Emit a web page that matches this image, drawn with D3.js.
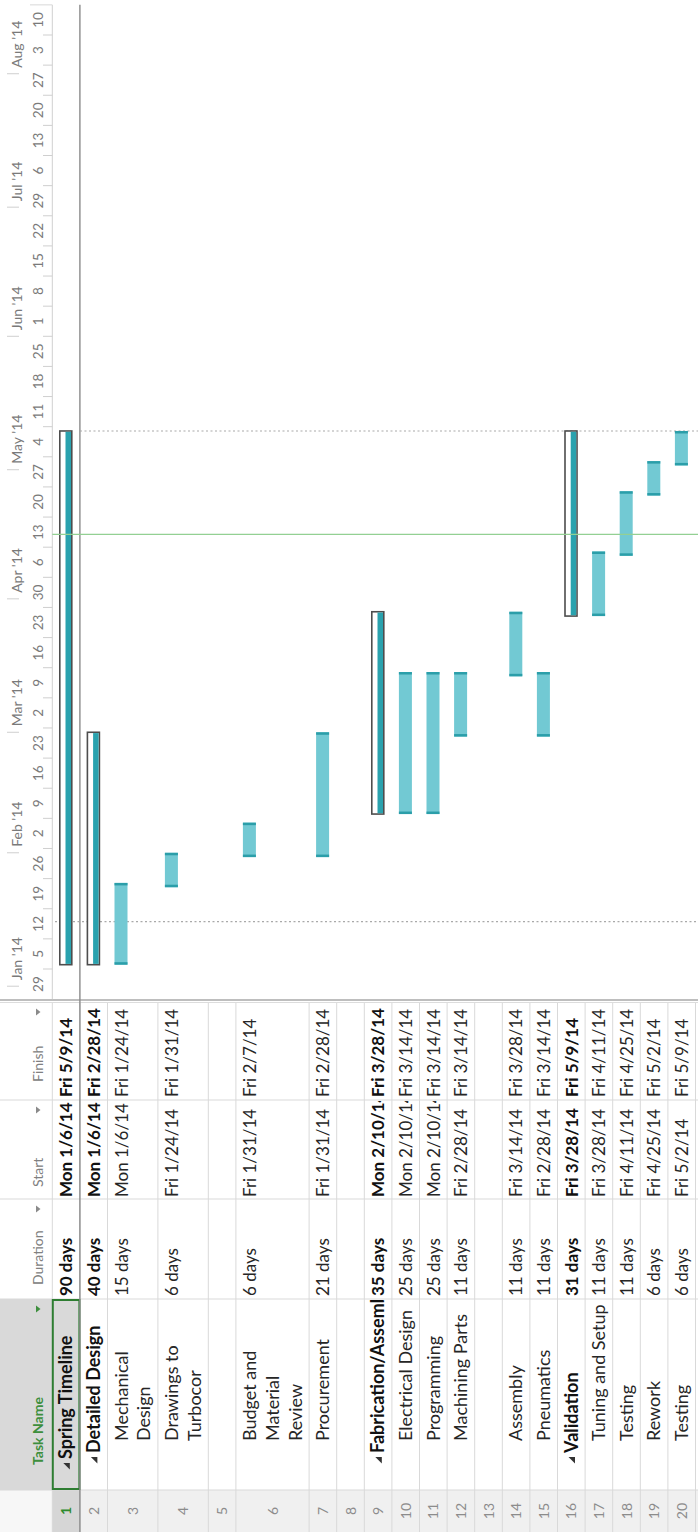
<!DOCTYPE html>
<html><head><meta charset="utf-8">
<script src="https://cdn.jsdelivr.net/npm/d3@7"></script>
<style>
html,body{margin:0;padding:0;background:#fff;}
svg{display:block;font-family:Lato,"Open Sans",sans-serif;}
</style>
</head><body>
<svg id="chart" width="698" height="1532"></svg>
<script>
// ---------- DATA ----------
const rowIds = d3.range(1, 21);
const taskLines = [
  ["Spring Timeline"], ["Detailed Design"], ["Mechanical", "Design"], ["Drawings to", "Turbocor"], [""],
  ["Budget and", "Material", "Review"], ["Procurement"], [""], ["Fabrication/Assembly"], ["Electrical Design"],
  ["Programming"], ["Machining Parts"], [""], ["Assembly"], ["Pneumatics"],
  ["Validation"], ["Tuning and Setup"], ["Testing"], ["Rework"], ["Testing"]
];
const taskLevels = [0,1,2,2,2,2,2,2,1,2,2,2,2,2,2,1,2,2,2,2];
const isSummary = [true,true,false,false,false,false,false,false,true,false,false,false,false,false,false,true,false,false,false,false];
const durations = ["90 days","40 days","15 days","6 days","","6 days","21 days","","35 days","25 days","25 days","11 days","","11 days","11 days","31 days","11 days","11 days","6 days","6 days"];
const startLabels = ["Mon 1/6/14","Mon 1/6/14","Mon 1/6/14","Fri 1/24/14","","Fri 1/31/14","Fri 1/31/14","","Mon 2/10/14","Mon 2/10/14","Mon 2/10/14","Fri 2/28/14","","Fri 3/14/14","Fri 2/28/14","Fri 3/28/14","Fri 3/28/14","Fri 4/11/14","Fri 4/25/14","Fri 5/2/14"];
const finishLabels = ["Fri 5/9/14","Fri 2/28/14","Fri 1/24/14","Fri 1/31/14","","Fri 2/7/14","Fri 2/28/14","","Fri 3/28/14","Fri 3/14/14","Fri 3/14/14","Fri 3/14/14","","Fri 3/28/14","Fri 3/14/14","Fri 5/9/14","Fri 4/11/14","Fri 4/25/14","Fri 5/2/14","Fri 5/9/14"];
const startDates = ["2014-01-06","2014-01-06","2014-01-06","2014-01-24",null,"2014-01-31","2014-01-31",null,"2014-02-10","2014-02-10","2014-02-10","2014-02-28",null,"2014-03-14","2014-02-28","2014-03-28","2014-03-28","2014-04-11","2014-04-25","2014-05-02"];
const finishDates = ["2014-05-09","2014-02-28","2014-01-24","2014-01-31",null,"2014-02-07","2014-02-28",null,"2014-03-28","2014-03-14","2014-03-14","2014-03-14",null,"2014-03-28","2014-03-14","2014-05-09","2014-04-11","2014-04-25","2014-05-02","2014-05-09"];
const columnHeaders = ["Task Name", "Duration", "Start", "Finish"];
const monthLabels = ["Jan '14","Feb '14","Mar '14","Apr '14","May '14","Jun '14","Jul '14","Aug '14"];
const monthStarts = ["2014-01-01","2014-02-01","2014-03-01","2014-04-01","2014-05-01","2014-06-01","2014-07-01","2014-08-01"];
const weekLabels = ["29","5","12","19","26","2","9","16","23","2","9","16","23","30","6","13","20","27","4","11","18","25","1","8","15","22","29","6","13","20","27","3","10"];
const statusDate = "2014-01-16";
const currentDate = "2014-04-16";
const projectFinish = "2014-05-10";

// ---------- LAYOUT ----------
const parse = d3.utcParse("%Y-%m-%d");
const svg = d3.select("#chart");
const g = svg.append("g").attr("transform", "translate(0,1532) rotate(-90)");
// in g: u = horizontal (original screenshot), v = vertical
const x = d3.scaleUtc().domain([parse("2014-01-05"), parse("2014-08-10")]).range([563, 1497]);
const tlStart = parse("2013-12-29"), tlEnd = parse("2014-08-17");
const U0 = x(tlStart), U1 = x(tlEnd);
const headerH = 52.3;
const rowH = taskLines.map(l => 27.6 + (l.length - 1) * 22.8);
const rowTop = [headerH, ...d3.cumsum(rowH).map(c => headerH + c)];
const colEdges = [0, 42, 233, 333, 432, 530];
const gridC = "#d9d9d9";

// ---------- TABLE BACKGROUNDS ----------
g.append("rect").attr("x", 0).attr("y", 0).attr("width", 42).attr("height", 698).attr("fill", "#f0f0f0");
g.append("rect").attr("x", 0).attr("y", 0).attr("width", 42).attr("height", headerH).attr("fill", "#f7f7f7");
g.append("rect").attr("x", 42).attr("y", 0).attr("width", 191).attr("height", headerH).attr("fill", "#d9d9d9");
g.append("rect").attr("x", 0).attr("y", rowTop[0]).attr("width", 42).attr("height", rowH[0]).attr("fill", "#d6d6d6");
g.append("rect").attr("x", 42).attr("y", rowTop[0]).attr("width", 191).attr("height", rowH[0]).attr("fill", "#d9d9d9");

// grid: row separators
g.append("g").selectAll("line").data(rowTop).join("line")
  .attr("x1", 0).attr("x2", 530).attr("y1", d => d).attr("y2", d => d)
  .attr("stroke", gridC).attr("stroke-width", 1);
// column separators
g.append("g").selectAll("line").data(colEdges.slice(1, 5)).join("line")
  .attr("x1", d => d).attr("x2", d => d).attr("y1", 0).attr("y2", 698)
  .attr("stroke", gridC).attr("stroke-width", 1);

// clip paths per column
const defs = svg.append("defs");
colEdges.slice(0, 5).forEach((e, i) => {
  defs.append("clipPath").attr("id", "col" + i)
    .append("rect").attr("x", e).attr("y", 0).attr("width", colEdges[i + 1] - e - 1).attr("height", 698);
});

// header texts
const headerPad = [25, 14, 12, 18];
columnHeaders.forEach((h, i) => {
  const left = colEdges[i + 1], right = colEdges[i + 2];
  const isTask = i === 0;
  g.append("text").attr("x", left + headerPad[i]).attr("y", 43)
    .attr("font-size", 14).attr("fill", isTask ? "#3d8f3d" : "#808080")
    .attr("font-weight", isTask ? 700 : 400).text(h);
  const a = right - 10;
  g.append("path").attr("d", `M${a - 3.5},${36}L${a + 3.5},${36}L${a},${40.5}Z`)
    .attr("fill", isTask ? "#3d8f3d" : "#8a8a8a");
});

// row numbers
g.append("g").selectAll("text").data(rowIds).join("text")
  .attr("x", 21).attr("y", (d, i) => rowTop[i] + rowH[i] / 2 + 5)
  .attr("text-anchor", "middle").attr("font-size", 14)
  .attr("fill", (d, i) => i === 0 ? "#2e8b2e" : "#8c8c8c")
  .attr("font-weight", (d, i) => i === 0 ? 700 : 400)
  .text(d => d);

// task names
const nameStart = [73, 79, 91];
const taskG = g.append("g").attr("clip-path", "url(#col1)");
taskLines.forEach((lines, i) => {
  const lvl = taskLevels[i];
  lines.forEach((ln, j) => {
    if (!ln) return;
    taskG.append("text").attr("x", nameStart[lvl]).attr("y", rowTop[i] + 20 + j * 22.8)
      .attr("font-size", 18).attr("font-weight", isSummary[i] ? 700 : 400)
      .attr("fill", isSummary[i] ? "#111" : "#262626").text(ln);
  });
  if (isSummary[i]) {
    const tx = nameStart[lvl] - 10, cy = rowTop[i] + 14;
    taskG.append("path").attr("d", `M${tx + 6},${cy - 3}L${tx + 6},${cy + 3.5}L${tx - 0.5},${cy + 3.5}Z`).attr("fill", "#333");
  }
});
// selection border around row 1 task cell
g.append("rect").attr("x", 43).attr("y", rowTop[0] + 0.5).attr("width", 189).attr("height", rowH[0] - 1)
  .attr("fill", "none").attr("stroke", "#2e7d32").attr("stroke-width", 2);

// duration / start / finish
[[durations, 2, 236], [startLabels, 3, 335], [finishLabels, 4, 435]].forEach(([arr, ci, ux]) => {
  g.append("g").attr("clip-path", `url(#col${ci})`).selectAll("text").data(arr).join("text")
    .attr("x", ux).attr("y", (d, i) => rowTop[i] + 20)
    .attr("font-size", 17).attr("font-weight", (d, i) => isSummary[i] ? 700 : 400)
    .attr("fill", (d, i) => isSummary[i] ? "#111" : "#262626").text(d => d);
});

// ---------- GANTT ----------
// split lines
g.append("line").attr("x1", 529.5).attr("x2", 529.5).attr("y1", 0).attr("y2", 698).attr("stroke", "#dcdcdc");
g.append("line").attr("x1", 532).attr("x2", 532).attr("y1", 0).attr("y2", 698).attr("stroke", "#a8a8a8").attr("stroke-width", 1.6);
// header/body boundary
g.append("line").attr("x1", U0).attr("x2", U1).attr("y1", headerH).attr("y2", headerH).attr("stroke", "#d0d0d0");
g.append("line").attr("x1", U1).attr("x2", U1).attr("y1", 30).attr("y2", headerH).attr("stroke", "#d8d8d8");

// week tier
const weeks = d3.utcSunday.range(tlStart, parse("2014-08-11"));
g.append("g").selectAll("line").data(weeks.slice(1)).join("line")
  .attr("x1", d => x(d)).attr("x2", d => x(d)).attr("y1", 43).attr("y2", headerH)
  .attr("stroke", "#cfcfcf");
g.append("g").selectAll("text").data(weeks).join("text")
  .attr("x", d => x(d) + (x(d3.utcDay.offset(d, 7)) - x(d)) / 2).attr("y", 42.5)
  .attr("text-anchor", "middle").attr("font-size", 13.5).attr("fill", "#7a7a7a")
  .text((d, i) => weekLabels[i]);

// month tier
const months = monthStarts.map(parse);
g.append("g").selectAll("line").data(months).join("line")
  .attr("x1", d => x(d)).attr("x2", d => x(d)).attr("y1", 7).attr("y2", 19)
  .attr("stroke", "#cfcfcf");
g.append("g").selectAll("text").data(months).join("text")
  .attr("x", d => x(d) + 6).attr("y", 21.5)
  .attr("font-size", 14).attr("fill", "#7a7a7a")
  .text((d, i) => monthLabels[i]);

// dark line under row 1
g.append("line").attr("x1", 0).attr("x2", U1).attr("y1", rowTop[1]).attr("y2", rowTop[1])
  .attr("stroke", "#8a8a8a").attr("stroke-width", 1.4);

// dotted lines
g.append("line").attr("x1", x(parse(statusDate))).attr("x2", x(parse(statusDate))).attr("y1", 55).attr("y2", 698)
  .attr("stroke", "#a9a9a9").attr("stroke-width", 1.2).attr("stroke-dasharray", "2,2.5");
g.append("line").attr("x1", x(parse(projectFinish))).attr("x2", x(parse(projectFinish))).attr("y1", 80).attr("y2", 698)
  .attr("stroke", "#a9a9a9").attr("stroke-width", 1.2).attr("stroke-dasharray", "2,2.5");

// bars
const barG = g.append("g");
rowIds.forEach((id, i) => {
  if (!startDates[i]) return;
  const u0 = x(parse(startDates[i]));
  const u1 = x(d3.utcDay.offset(parse(finishDates[i]), 1));
  const cy = rowTop[i] + 13.5;
  if (isSummary[i]) {
    barG.append("rect").attr("x", u0).attr("y", cy - 6).attr("width", u1 - u0).attr("height", 12)
      .attr("fill", "#fff").attr("stroke", "#4d4d4d").attr("stroke-width", 1.6);
    barG.append("rect").attr("x", u0 + 0.8).attr("y", cy - 0.3).attr("width", u1 - u0 - 1.6).attr("height", 5.5)
      .attr("fill", "#2aa2ae");
  } else {
    barG.append("rect").attr("x", u0).attr("y", cy - 6.5).attr("width", u1 - u0).attr("height", 13)
      .attr("fill", "#72c9d3");
    barG.append("rect").attr("x", u0).attr("y", cy - 6.5).attr("width", 2.5).attr("height", 13).attr("fill", "#2b9ea9");
    barG.append("rect").attr("x", u1 - 2.5).attr("y", cy - 6.5).attr("width", 2.5).attr("height", 13).attr("fill", "#2b9ea9");
  }
});

// current date line
g.append("line").attr("x1", x(parse(currentDate))).attr("x2", x(parse(currentDate))).attr("y1", headerH).attr("y2", 698)
  .attr("stroke", "#93d093").attr("stroke-width", 1.3);
</script>
</body></html>
